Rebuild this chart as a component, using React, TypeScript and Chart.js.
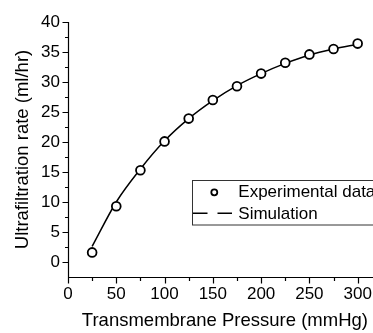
import React, { useEffect, useRef } from "react";
import { Chart, registerables } from "chart.js";

Chart.register(...registerables);

// ---- data ----
const pressures = [25, 50, 75, 100, 125, 150, 175, 200, 225, 250, 275, 300];
const experimental = [1.6, 9.3, 15.3, 20.1, 23.9, 27.0, 29.3, 31.4, 33.2, 34.6, 35.5, 36.4];
const simulation = [2.6, 10.0, 15.5, 20.2, 23.9, 26.9, 29.4, 31.4, 33.1, 34.5, 35.5, 36.3];
const seriesLabels = ["Experimental data", "Simulation"];
const xTitle = "Transmembrane Pressure (mmHg)";
const yTitle = "Ultrafiltration rate (ml/hr)";
const xRange = [0, 325];
const yRange = [-2.5, 40];
const xMajor = 50;
const xMinor = 25;
const yMajor = 5;
const yMinor = 2.5;

const FONT = "'Liberation Sans', Arial, sans-serif";

const axesPlugin = {
  id: "originAxes",
  afterDatasetsDraw(chart: any) {
    const { ctx, chartArea, scales } = chart;
    const { left, right, top, bottom } = chartArea;
    const xs = scales.x;
    const ys = scales.y;
    ctx.save();
    ctx.strokeStyle = "#000";
    ctx.lineWidth = 1.2;
    ctx.beginPath();
    const L = Math.round(left) + 0.5;
    const B = Math.round(bottom) + 0.5;
    ctx.moveTo(L, top);
    ctx.lineTo(L, B);
    ctx.lineTo(right, B);
    for (let v = 0; v <= yRange[1] + 1e-9; v += yMinor) {
      const py = Math.round(ys.getPixelForValue(v)) + 0.5;
      const len = Math.abs(v % yMajor) < 1e-9 ? 6 : 3.5;
      ctx.moveTo(L, py);
      ctx.lineTo(L - len, py);
    }
    for (let v = 0; v <= xRange[1] + 1e-9; v += xMinor) {
      const px = Math.round(xs.getPixelForValue(v)) + 0.5;
      const len = Math.abs(v % xMajor) < 1e-9 ? 6 : 3.5;
      ctx.moveTo(px, B);
      ctx.lineTo(px, B + len);
    }
    ctx.stroke();
    ctx.restore();
  },
};

const legendPlugin = {
  id: "boxLegend",
  afterDraw(chart: any) {
    const { ctx } = chart;
    const ds = chart.data.datasets;
    ctx.save();
    ctx.fillStyle = "#fff";
    ctx.fillRect(192.5, 180.5, 260, 44.5);
    ctx.strokeStyle = "#333";
    ctx.lineWidth = 1;
    ctx.strokeRect(192.5, 180.5, 260, 44.5);
    // row 1 marker
    ctx.strokeStyle = "#000";
    ctx.lineWidth = 1.8;
    ctx.beginPath();
    ctx.arc(214.3, 192.3, 3, 0, Math.PI * 2);
    ctx.stroke();
    // row 2 dashed sample
    ctx.lineWidth = 1.5;
    ctx.setLineDash([14.5, 10]);
    ctx.beginPath();
    ctx.moveTo(193, 213.3);
    ctx.lineTo(233, 213.3);
    ctx.stroke();
    ctx.setLineDash([]);
    ctx.fillStyle = "#000";
    ctx.font = `17px ${FONT}`;
    ctx.textBaseline = "middle";
    ctx.textAlign = "left";
    ctx.fillText(ds[0].label, 238.3, 192.4);
    ctx.fillText(ds[1].label, 238.3, 214.1);
    ctx.restore();
  },
};

export default function App() {
  const ref = useRef<HTMLCanvasElement | null>(null);
  useEffect(() => {
    if (!ref.current) return;
    const chart = new Chart(ref.current, {
      type: "line",
      data: {
        datasets: [
          {
            label: seriesLabels[0],
            data: pressures.map((p, i) => ({ x: p, y: experimental[i] })),
            showLine: false,
            pointStyle: "circle",
            pointRadius: 4.4,
            pointBorderWidth: 1.8,
            pointBackgroundColor: "#fff",
            pointBorderColor: "#000",
            borderColor: "#000",
          },
          {
            label: seriesLabels[1],
            data: pressures.map((p, i) => ({ x: p, y: simulation[i] })),
            borderColor: "#000",
            borderWidth: 1.5,
            pointRadius: 0,
            cubicInterpolationMode: "monotone",
            fill: false,
          },
        ],
      },
      options: {
        animation: false,
        responsive: false,
        devicePixelRatio: 1,
        layout: { padding: { top: 22, right: 2, bottom: 0, left: 0 } },
        plugins: { legend: { display: false }, tooltip: { enabled: false } },
        scales: {
          x: {
            type: "linear",
            min: xRange[0],
            max: xRange[1],
            grid: { display: false, drawTicks: false },
            border: { display: false },
            ticks: {
              stepSize: xMajor,
              includeBounds: false,
              autoSkip: false,
              maxRotation: 0,
              padding: 7,
              color: "#000",
              font: { family: FONT, size: 17 },
            },
            title: {
              display: true,
              text: xTitle,
              color: "#000",
              font: { family: FONT, size: 18.5 },
              padding: { top: 0, bottom: 1 },
            },
            afterFit: (s: any) => {
              s.height = 56;
            },
          },
          y: {
            type: "linear",
            min: yRange[0],
            max: yRange[1],
            grid: { display: false, drawTicks: false },
            border: { display: false },
            ticks: {
              stepSize: yMajor,
              includeBounds: false,
              padding: 8,
              color: "#000",
              font: { family: FONT, size: 17 },
            },
            title: {
              display: true,
              text: yTitle,
              color: "#000",
              font: { family: FONT, size: 18.5 },
              padding: { top: 12, bottom: 0 },
            },
            afterFit: (s: any) => {
              s.width = 68;
            },
          },
        },
      } as any,
      plugins: [axesPlugin, legendPlugin],
    });
    return () => chart.destroy();
  }, []);
  return (
    <div
      style={{
        position: "fixed",
        left: 0,
        top: 0,
        width: 373,
        height: 333,
        overflow: "hidden",
        background: "#fff",
      }}
    >
      <canvas ref={ref} width={388} height={333} style={{ display: "block" }} />
    </div>
  );
}
